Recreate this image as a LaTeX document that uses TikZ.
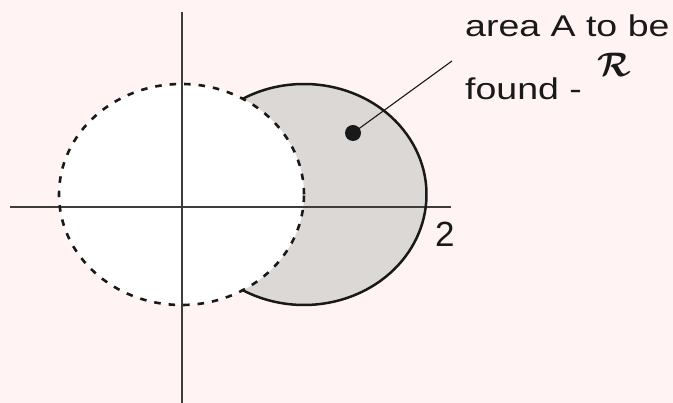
\documentclass[tikz,border=0pt]{standalone}
\usepackage{fontspec}
\setmainfont{Liberation Sans}
\definecolor{bgpink}{RGB}{255,243,243}
\definecolor{shadegray}{RGB}{220,216,214}
\definecolor{axisgray}{RGB}{60,60,60}
\definecolor{ink}{RGB}{25,25,25}
\begin{document}
\begin{tikzpicture}[x=1pt,y=1pt,
  axisline/.style={draw=axisgray,line width=1.3pt},
  curveline/.style={draw=ink,line width=2.5pt},
  dashline/.style={draw=ink,line width=2.6pt,dash pattern=on 6.5pt off 8pt},
  lbltext/.style={inner sep=0pt,text=ink,font=\fontsize{30}{36}\selectfont},
  dotnode/.style={circle,fill=ink,inner sep=0pt,minimum size=16pt}]
\fill[bgpink] (0,0) rectangle (673,403);
\useasboundingbox (0,0) rectangle (673,403);
% shaded region
\fill[shadegray] (304,208.5) ellipse[x radius=122.5, y radius=110.5];
\fill[white] (181.5,208.5) ellipse[x radius=122.5, y radius=110.5];
% axes
\coordinate (yb) at (182,0);
\coordinate (yt) at (182,391);
\coordinate (xl) at (10,196);
\coordinate (xr) at (451,196);
\draw[axisline] (yb) -- (yt);
\draw[axisline] (xl) -- (xr);
% curves
\draw[dashline] (181.5,208.5) ellipse[x radius=122.5, y radius=110.5];
\coordinate (ptop) at ({304+122.5*cos(120)},{208.5+110.5*sin(120)});
\draw[curveline] (ptop) arc[start angle=120, end angle=-120, x radius=122.5, y radius=110.5];
% label
\node[dotnode] (dot) at (353,270) {};
\coordinate (lend) at (452,342);
\draw[ink,line width=1.1pt] (dot.center) -- (lend);
\node[lbltext,anchor=base west] (l1) at (465,366) {\scalebox{1.25}[1]{area A to be}};
\node[lbltext,anchor=base west] (l2) at (465,303) {\scalebox{1.25}[1]{found -}};
\node[inner sep=0pt,text=ink,anchor=base west] (rr) at (597,326) {\scalebox{3.4}{\boldmath$\mathcal{R}$}};
\node[inner sep=0pt,text=ink,anchor=base west,font=\fontsize{35}{40}\selectfont] (two) at (435,156) {2};
\end{tikzpicture}
\end{document}
